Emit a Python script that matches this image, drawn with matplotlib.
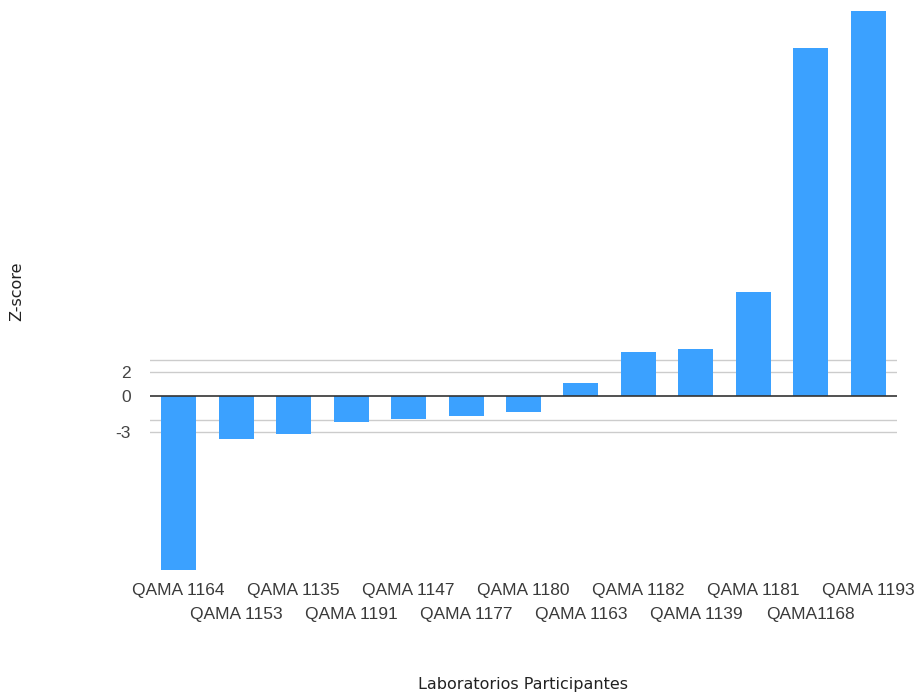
import matplotlib
matplotlib.use("Agg")
import matplotlib.pyplot as plt
from matplotlib.transforms import ScaledTranslation

labs = ["QAMA 1164", "QAMA 1153", "QAMA 1135", "QAMA 1191", "QAMA 1147", "QAMA 1177",
        "QAMA 1180", "QAMA 1163", "QAMA 1182", "QAMA 1139", "QAMA 1181", "QAMA1168", "QAMA 1193"]
zscores = [-14.5, -3.6, -3.2, -2.2, -1.9, -1.7, -1.3, 1.1, 3.7, 3.9, 8.7, 29.0, 32.1]
grid_vals = [3, 2, -2, -3]
tick_vals = [2, 0, -3]

W, H = 919, 695
fig = plt.figure(figsize=(W / 100, H / 100), dpi=100)
ax = fig.add_axes([150 / W, 1 - 570 / H, (897 - 150) / W, (570 - 11) / H])

x = list(range(len(labs)))
ax.bar(x, zscores, width=0.61, color="#3ba1ff", zorder=3)
ax.set_xlim(-0.5, len(labs) - 0.5)
ax.set_ylim(-(570 - 396) / 12, (396 - 11) / 12)

for g in grid_vals:
    ax.axhline(g, color="#cccccc", lw=1, zorder=1)
ax.axhline(0, color="#333333", lw=1.2, zorder=4)

for s in ax.spines.values():
    s.set_visible(False)

ax.set_yticks(tick_vals)
ax.set_yticklabels([str(v) for v in tick_vals], fontsize=12.5, color="#444444",
                   family="Liberation Sans")
ax.tick_params(axis="y", length=0, pad=14)

ax.set_xticks(x)
ax.set_xticklabels(labs, fontsize=12.5, color="#3a3a3a", family="Liberation Sans")
ax.tick_params(axis="x", length=0, pad=9)
for i, t in enumerate(ax.get_xticklabels()):
    if i % 2 == 1:
        t.set_transform(t.get_transform() + ScaledTranslation(0, -0.24, fig.dpi_scale_trans))

fig.text(17 / W, 1 - 291 / H, "Z-score", rotation=90, ha="center", va="center",
         fontsize=11.5, color="#222222", family="DejaVu Sans")
fig.text(523 / W, 1 - 684 / H, "Laboratorios Participantes", ha="center", va="center",
         fontsize=11.5, color="#222222", family="DejaVu Sans")

fig.savefig("out.png", dpi=100, facecolor="white")
